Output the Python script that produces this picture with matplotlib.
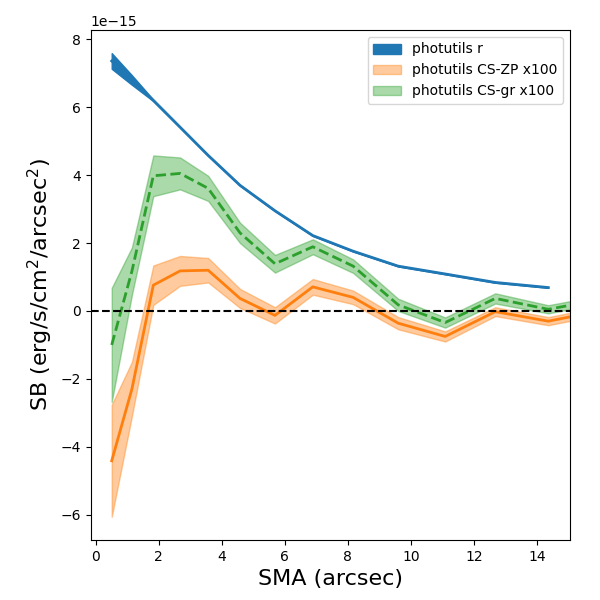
import numpy as np
import matplotlib
matplotlib.use('Agg')
import matplotlib.pyplot as plt

# semi-major axis (arcsec)
sma = np.array([0.51, 1.15, 1.83, 2.68, 3.57, 4.58, 5.69, 6.89, 8.17, 9.6, 11.09, 12.68, 14.36, 16.1])

# photutils r profile (units of 1e-15)
sb_r = np.array([7.36, 6.8, 6.2, 5.41, 4.58, 3.7, 2.95, 2.22, 1.76, 1.32, 1.09, 0.84, 0.69])
sb_r_err = np.array([0.23, 0.14, 0.02, 0.01, 0.01, 0.01, 0.01, 0.01, 0.01, 0.01, 0.01, 0.01, 0.01])

# colour-subtracted profiles, x100
sb_zp = np.array([-4.41, -2.3, 0.76, 1.18, 1.2, 0.37, -0.13, 0.71, 0.4, -0.36, -0.75, -0.02, -0.3, 0.02])
sb_zp_err = np.array([1.65, 0.8, 0.58, 0.44, 0.36, 0.28, 0.24, 0.23, 0.2, 0.18, 0.15, 0.13, 0.12, 0.12])

sb_gr = np.array([-1.0, 1.17, 3.98, 4.05, 3.61, 2.3, 1.39, 1.89, 1.32, 0.18, -0.34, 0.37, 0.05, 0.35])
sb_gr_err = np.array([1.68, 0.7, 0.6, 0.47, 0.37, 0.3, 0.26, 0.22, 0.2, 0.18, 0.15, 0.15, 0.12, 0.12])

scale = 1e-15

fig, ax = plt.subplots(figsize=(6, 6), dpi=100)
fig.subplots_adjust(left=0.151, right=0.95, top=0.95, bottom=0.1)

n = len(sb_r)
ax.fill_between(sma[:n], (sb_r - sb_r_err) * scale, (sb_r + sb_r_err) * scale,
                color='C0', alpha=1, label='photutils r')
ax.plot(sma[:n], sb_r * scale, color='C0', lw=2)

ax.fill_between(sma, (sb_zp - sb_zp_err) * scale, (sb_zp + sb_zp_err) * scale,
                color='C1', alpha=0.4, label='photutils CS-ZP x100')
ax.plot(sma, sb_zp * scale, color='C1', lw=2)

ax.fill_between(sma, (sb_gr - sb_gr_err) * scale, (sb_gr + sb_gr_err) * scale,
                color='C2', alpha=0.4, label='photutils CS-gr x100')
ax.plot(sma, sb_gr * scale, color='C2', lw=2, ls='--')

ax.axhline(0, color='k', ls='--', lw=1.5)

ax.set_xlim(-0.16, 15.05)
ax.set_xlabel('SMA (arcsec)', fontsize=16)
ax.set_ylabel('SB (erg/s/cm$^2$/arcsec$^2$)', fontsize=16)
ax.legend(loc='upper right')

fig.savefig('out.png')
